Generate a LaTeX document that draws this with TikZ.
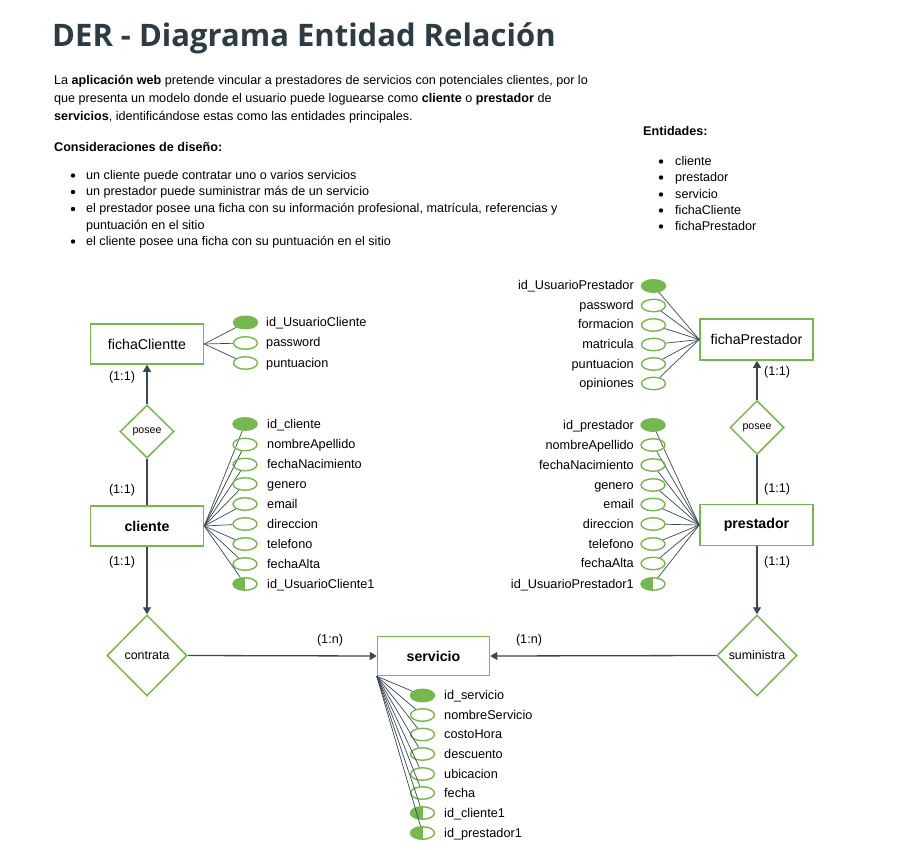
\documentclass[tikz,border=0pt]{standalone}
\usepackage{fontspec}
\setmainfont{Liberation Sans}
\newfontfamily\titlefont{Open Sans}
\usetikzlibrary{shapes.geometric,arrows.meta}
\definecolor{grn}{HTML}{74B84F}
\definecolor{lnc}{HTML}{3A4856}
\definecolor{ttl}{HTML}{2D3B45}
\begin{document}
\begin{tikzpicture}[x=1pt,y=-1pt,
  ptxt/.style={font=\fontsize{12.6}{18}\selectfont, inner sep=0, anchor=base west},
  ent/.style={draw=grn, line width=1.5pt, minimum width=113pt, minimum height=40pt, inner sep=0, font=\fontsize{14.2}{16}\selectfont},
  rel/.style={diamond, draw=grn, line width=1.5pt, inner sep=0, aspect=1},
  attr/.style={ellipse, draw=grn, line width=1.4pt, minimum width=24pt, minimum height=12.5pt, inner sep=0},
  pk/.style={attr, fill=grn},
  fk/.style={attr, path picture={\fill[grn] (path picture bounding box.north west) rectangle (path picture bounding box.south);}},
  atxt/.style={font=\fontsize{12.7}{14}\selectfont, inner sep=0},
  card/.style={font=\fontsize{12.6}{14}\selectfont, inner sep=0},
  conn/.style={draw=lnc, line width=1.3pt},
  arr/.style={conn, -{Triangle[length=7pt,width=8pt]}},
  al/.style={draw=lnc, line width=0.7pt},
  bul/.style={fill=black}
]
\fill[white] (0,0) rectangle (897,850);
\useasboundingbox (0,0) rectangle (897,850);

% ---- header ----
\node[anchor=base west, inner sep=0, text=ttl, font=\titlefont\bfseries\fontsize{31}{36}\selectfont] (title) at (52,47) {DER - Diagrama Entidad Relación};

\node[ptxt] (p1) at (54,84.5) {La \textbf{aplicación web} pretende vincular a prestadores de servicios con potenciales clientes, por lo};
\node[ptxt] (p2) at (54,102.5) {que presenta un modelo donde el usuario puede loguearse como \textbf{cliente} o \textbf{prestador} de};
\node[ptxt] (p3) at (54,120.5) {\textbf{servicios}, identificándose estas como las entidades principales.};
\node[ptxt] (cons) at (54,151.5) {\textbf{Consideraciones de diseño:}};

\node[ptxt] (b1) at (86,179.5) {un cliente puede contratar uno o varios servicios};
\node[ptxt] (b2) at (86,196) {un prestador puede suministrar más de un servicio};
\node[ptxt] (b3) at (86,213) {el prestador posee una ficha con su información profesional, matrícula, referencias y};
\node[ptxt] (b3b) at (86,229.5) {puntuación en el sitio};
\node[ptxt] (b4) at (86,245.5) {el cliente posee una ficha con su puntuación en el sitio};
\foreach \yy in {179.5,196,213,245.5} \fill[bul] (73,\yy-4) circle[radius=2.2pt];

\node[ptxt] (entt) at (643,135.5) {\textbf{Entidades:}};
\node[ptxt] (e1) at (675,165.5) {cliente};
\node[ptxt] (e2) at (675,181.5) {prestador};
\node[ptxt] (e3) at (675,198.5) {servicio};
\node[ptxt] (e4) at (675,214.5) {fichaCliente};
\node[ptxt] (e5) at (675,230.5) {fichaPrestador};
\foreach \yy in {165.5,181.5,198.5,214.5,230.5} \fill[bul] (661,\yy-4) circle[radius=2.2pt];

% ---- entities ----
\node[ent] (fc) at (147,344) {fichaClientte};
\node[ent] (cli) at (147,526) {\textbf{cliente}};
\node[ent, minimum height=41pt] (fp) at (756.5,339.5) {fichaPrestador};
\node[ent, minimum height=41pt] (pre) at (756.5,525) {\textbf{prestador}};
\node[ent, minimum width=112pt, minimum height=39pt] (ser) at (433.5,656) {\textbf{servicio}};

% ---- relations ----
\node[rel, minimum width=54pt, minimum height=53pt, font=\fontsize{10.6}{12}\selectfont] (pc) at (147,431.5) {posee};
\node[rel, minimum width=54pt, minimum height=54pt, font=\fontsize{10.6}{12}\selectfont] (pp) at (757,427.5) {posee};
\node[rel, minimum width=80pt, minimum height=81pt, font=\fontsize{12.4}{14}\selectfont] (con) at (147,655.5) {contrata};
\node[rel, minimum width=80pt, minimum height=81pt, font=\fontsize{12.4}{14}\selectfont] (sum) at (757,655.5) {suministra};

% ---- relation connectors ----
\draw[arr] (pc.north) -- (fc.south);
\draw[conn] (pc.south) -- (cli.north);
\draw[arr] (cli.south) -- (con.north);
\draw[arr] (pp.north) -- (fp.south -| pp.north);
\draw[conn] (pp.south) -- (pre.north -| pp.south);
\draw[arr] (pre.south -| sum.north) -- (sum.north);
\draw[arr] (con.east) -- (ser.west);
\draw[arr] (sum.west) -- (ser.east);

\node[card] (c1) at (122,377) {(1:1)};
\node[card] (c2) at (122,490) {(1:1)};
\node[card] (c3) at (122,562) {(1:1)};
\node[card] (c4) at (777,372) {(1:1)};
\node[card] (c5) at (777,489) {(1:1)};
\node[card] (c6) at (777,562.5) {(1:1)};
\node[card] (c7) at (330,640) {(1:n)};
\node[card] (c8) at (529,640) {(1:n)};

% ---- fichaClientte attributes ----
\foreach \nm/\yy/\st/\lb in {a1/322.5/pk/id\_UsuarioCliente, a2/343/attr/password, a3/363/attr/puntuacion}{
  \node[\st] (fc\nm) at (245.5,\yy) {};
  \node[atxt, anchor=base west] (fc\nm t) at (266,\yy+4) {\lb};
  \draw[al] (fc.east) -- (fc\nm);
}

% ---- cliente attributes ----
\foreach \nm/\yy/\st/\lb in {a1/424/pk/id\_cliente, a2/444.5/attr/nombreApellido, a3/464.5/attr/fechaNacimiento, a4/484/attr/genero, a5/504/attr/email, a6/524/attr/direccion, a7/544/attr/telefono, a8/564/attr/fechaAlta, a9/584/fk/id\_UsuarioCliente1}{
  \node[\st] (cl\nm) at (245,\yy) {};
  \node[atxt, anchor=base west] (cl\nm t) at (267,\yy+4) {\lb};
  \draw[al] (cli.east) -- (cl\nm);
}

% ---- fichaPrestador attributes ----
\foreach \nm/\yy/\st/\lb in {a1/286/pk/id\_UsuarioPrestador, a2/305.5/attr/password, a3/325/attr/formacion, a4/344.5/attr/matricula, a5/364/attr/puntuacion, a6/383.5/attr/opiniones}{
  \node[\st] (fp\nm) at (653.5,\yy) {};
  \node[atxt, anchor=base east] (fp\nm t) at (634,\yy+4) {\lb};
  \draw[al] (fp.west) -- (fp\nm);
}

% ---- prestador attributes ----
\foreach \nm/\yy/\st/\lb in {a1/425/pk/id\_prestador, a2/445/attr/nombreApellido, a3/465/attr/fechaNacimiento, a4/485/attr/genero, a5/504.5/attr/email, a6/524/attr/direccion, a7/544/attr/telefono, a8/563.5/attr/fechaAlta, a9/584/fk/id\_UsuarioPrestador1}{
  \node[\st] (pr\nm) at (653,\yy) {};
  \node[atxt, anchor=base east] (pr\nm t) at (634,\yy+4) {\lb};
  \draw[al] (pre.west) -- (pr\nm);
}

% ---- servicio attributes ----
\foreach \nm/\yy/\st/\lb in {a1/695.5/pk/id\_servicio, a2/715/attr/nombreServicio, a3/734.5/attr/costoHora, a4/754/attr/descuento, a5/774/attr/ubicacion, a6/793/attr/fecha, a7/813/fk/id\_cliente1, a8/833/fk/id\_prestador1}{
  \node[\st] (se\nm) at (422.5,\yy) {};
  \node[atxt, anchor=base west] (se\nm t) at (444,\yy+4) {\lb};
  \draw[al] (ser.south west) -- (se\nm);
}
\end{tikzpicture}
\end{document}
